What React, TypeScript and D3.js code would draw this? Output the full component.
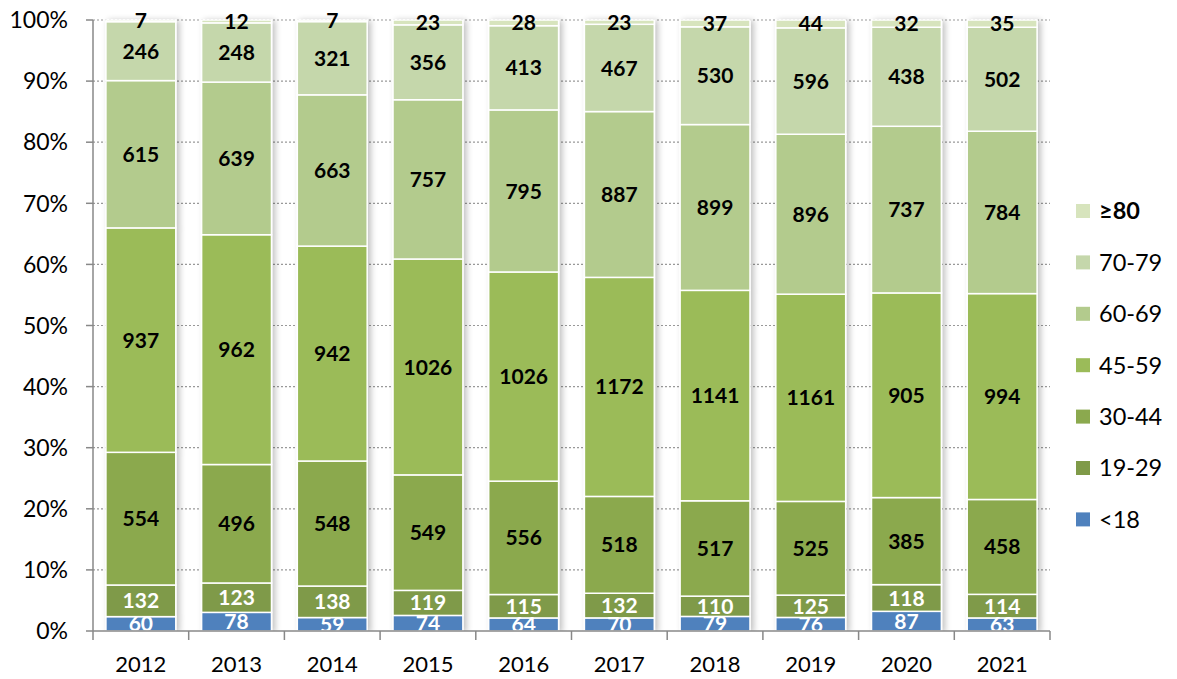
import React from "react";
import * as d3 from "d3";

const years = ["2012", "2013", "2014", "2015", "2016", "2017", "2018", "2019", "2020", "2021"];
const groups = ["<18", "19-29", "30-44", "45-59", "60-69", "70-79", "≥80"];
const colors = ["#4F81BD", "#7F9A48", "#8BA94E", "#9BBB59", "#B3CB8D", "#C5D7AB", "#D7E4BD"];
const under18 = [60, 78, 59, 74, 64, 70, 79, 76, 87, 63];
const age19_29 = [132, 123, 138, 119, 115, 132, 110, 125, 118, 114];
const age30_44 = [554, 496, 548, 549, 556, 518, 517, 525, 385, 458];
const age45_59 = [937, 962, 942, 1026, 1026, 1172, 1141, 1161, 905, 994];
const age60_69 = [615, 639, 663, 757, 795, 887, 899, 896, 737, 784];
const age70_79 = [246, 248, 321, 356, 413, 467, 530, 596, 438, 502];
const age80plus = [7, 12, 7, 23, 28, 23, 37, 44, 32, 35];
const yTicks = [0, 0.1, 0.2, 0.3, 0.4, 0.5, 0.6, 0.7, 0.8, 0.9, 1];

const series = [under18, age19_29, age30_44, age45_59, age60_69, age70_79, age80plus];

const FONT = "Lato, 'Open Sans', sans-serif";

export default function App() {
  const left = 93, right = 1050, top = 20, bottom = 631;
  const x = d3.scaleBand<string>().domain(years).range([left, right]).paddingInner(0.27).paddingOuter(0.135);
  const y = d3.scaleLinear().domain([0, 1]).range([bottom, top]);
  const step = x.step();

  const rows = years.map((yr, i) => {
    const row: any = { year: yr };
    groups.forEach((g, k) => (row[g] = series[k][i]));
    return row;
  });
  const stacked = d3.stack<any>().keys(groups).offset(d3.stackOffsetExpand)(rows);

  return (
    <svg width={1177} height={679} style={{ position: "absolute", left: 0, top: 0 }}>
      <defs>
        <clipPath id="plot">
          <rect x={left} y={top - 20} width={right - left} height={bottom - top + 20} />
        </clipPath>
        <filter id="shadow" x="-20%" y="-5%" width="140%" height="110%">
          <feGaussianBlur in="SourceAlpha" stdDeviation="3" />
          <feOffset dx="3" dy="1" result="b" />
          <feComponentTransfer>
            <feFuncA type="linear" slope="0.25" />
          </feComponentTransfer>
          <feMerge>
            <feMergeNode />
            <feMergeNode in="SourceGraphic" />
          </feMerge>
        </filter>
      </defs>
      <rect width={1177} height={679} fill="#fff" />
      {/* gridlines */}
      {yTicks.slice(1).map((t) => (
        <line key={t} x1={left} x2={right} y1={y(t)} y2={y(t)} stroke="#999" strokeWidth={1.2} strokeDasharray="2,2" />
      ))}
      {/* bars */}
      <g clipPath="url(#plot)">
        {years.map((yr, i) => (
          <g key={yr} filter="url(#shadow)">
            {stacked.map((s, k) => {
              const d = s[i];
              return (
                <rect
                  key={k}
                  x={x(yr)!}
                  y={y(d[1])}
                  width={x.bandwidth()}
                  height={Math.max(0, y(d[0]) - y(d[1]))}
                  fill={colors[k]}
                  stroke="#fff"
                  strokeWidth={1.5}
                />
              );
            })}
          </g>
        ))}
        {years.map((yr, i) =>
          stacked.map((s, k) => {
            const d = s[i];
            const cy = (y(d[0]) + y(d[1])) / 2;
            return (
              <text
                key={yr + k}
                x={x(yr)! + x.bandwidth() / 2}
                y={cy}
                dy="0.36em"
                textAnchor="middle"
                fontFamily={FONT}
                fontWeight="bold"
                fontSize={21}
                fill={k < 2 ? "#fff" : "#000"}
              >
                {series[k][i]}
              </text>
            );
          })
        )}
      </g>
      {/* axes */}
      <line x1={left} x2={left} y1={top} y2={bottom} stroke="#888" strokeWidth={1.5} />
      {yTicks.map((t) => (
        <g key={t}>
          <line x1={left - 7} x2={left} y1={y(t)} y2={y(t)} stroke="#888" strokeWidth={1.5} />
          <text x={68} y={y(t)} dy="0.36em" textAnchor="end" fontFamily={FONT} fontSize={23} fill="#000">
            {d3.format(".0%")(t)}
          </text>
        </g>
      ))}
      <line x1={left} x2={right} y1={bottom} y2={bottom} stroke="#888" strokeWidth={1.5} />
      {d3.range(years.length + 1).map((i) => (
        <line key={i} x1={left + i * step} x2={left + i * step} y1={bottom} y2={bottom + 9} stroke="#888" strokeWidth={1.5} />
      ))}
      {years.map((yr) => (
        <text key={yr} x={x(yr)! + x.bandwidth() / 2} y={664} dy="0.36em" textAnchor="middle" fontFamily={FONT} fontSize={22} fill="#000">
          {yr}
        </text>
      ))}
      {/* legend */}
      {groups
        .slice()
        .reverse()
        .map((g, j) => {
          const k = groups.length - 1 - j;
          const ly = 211 + j * 51.4;
          return (
            <g key={g}>
              <rect x={1076} y={ly - 7} width={14} height={14} fill={colors[k]} />
              <text x={1099} y={ly} dy="0.36em" fontFamily={FONT} fontSize={23.5} fontWeight={g === "≥80" ? "bold" : "normal"} fill="#000">
                {g}
              </text>
            </g>
          );
        })}
    </svg>
  );
}
